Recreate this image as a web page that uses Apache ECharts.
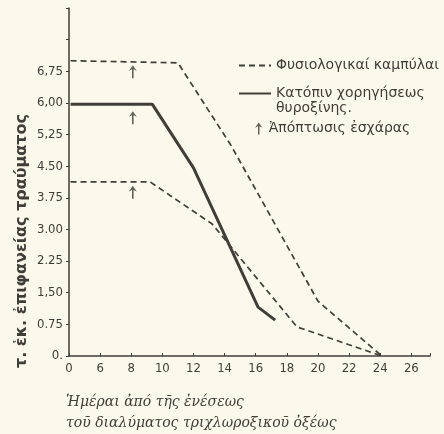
<!DOCTYPE html>
<html>
<head>
<meta charset="utf-8">
<script src="https://cdn.jsdelivr.net/npm/echarts@6/dist/echarts.min.js"></script>
<style>
  html, body { margin: 0; padding: 0; background: #fbf8ec; }
  #chart { width: 444px; height: 434px; }
</style>
</head>
<body>
<div id="chart"></div>
<script>
// ημέρες (x) / τ. εκ. (y)
const normalUpper = [[4.1, 7.0], [11, 6.95], [14.4, 5.0], [20, 1.3], [24.1, 0]];
const normalLower = [[4.1, 4.13], [9.2, 4.13], [13.2, 3.13], [18.65, 0.69], [24.1, 0]];
const thyroxine = [[4.1, 5.97], [9.35, 5.97], [12, 4.46], [16.15, 1.16], [17.25, 0.85]];
const eschar = [[8.1, 6.74], [8.1, 5.65], [8.1, 3.88]];

const xTickLabels = {4: '0', 6: '6', 8: '8', 10: '10', 12: '12', 14: '14', 16: '16', 18: '18', 20: '20', 22: '22', 24: '24', 26: '26'};
const yTickLabels = ['0.', '0.75', '1,50', '2.25', '3.00', '3.75', '4.50', '5,25', '6,00', '6,75', '', ''];

const ink = '#3f3f39';
const arrowPath = 'path://M5,0 L10,7 L6,5 L6,16 L4,16 L4,5 L0,7 Z';

const nameNormal = 'Φυσιολογικαί καμπύλαι';
const nameThyr = 'Κατόπιν χορηγήσεως\nθυροξίνης.';
const nameEschar = 'Ἀπόπτωσις ἐσχάρας';

const legendText = {color: ink, fontFamily: 'DejaVu Sans', fontSize: 14, lineHeight: 15};

const chart = echarts.init(document.getElementById('chart'));

chart.setOption({
    backgroundColor: '#fbf8ec',
    animation: false,
    grid: {left: 69, top: 8, right: 14, bottom: 78},
    legend: [
        {
            left: 233, top: 53, itemWidth: 32, itemHeight: 12,
            data: [{name: nameNormal, itemStyle: {opacity: 0}}],
            textStyle: legendText
        },
        {
            // κενή πρώτη γραμμή ώστε το εικονίδιο να στέκεται στην πρώτη γραμμή του κειμένου
            left: 233, top: 66, itemWidth: 32, itemHeight: 12,
            data: [{name: nameThyr, itemStyle: {opacity: 0}}],
            formatter: name => ' \n' + name,
            textStyle: legendText
        },
        {
            left: 250, top: 116, itemWidth: 10, itemHeight: 12,
            data: [nameEschar],
            textStyle: legendText
        }
    ],
    xAxis: {
        type: 'value',
        min: 4,
        max: 27.2,
        interval: 2,
        splitLine: {show: false},
        axisLine: {lineStyle: {color: ink, width: 1.5}},
        axisTick: {inside: true, length: 3, lineStyle: {color: ink}},
        axisLabel: {
            color: ink, fontFamily: 'DejaVu Sans Condensed', fontSize: 13, margin: 6,
            formatter: v => xTickLabels[v] || ''
        }
    },
    yAxis: {
        type: 'value',
        min: 0,
        max: 8.25,
        interval: 0.75,
        splitLine: {show: false},
        axisLine: {show: true, lineStyle: {color: ink, width: 1.5}},
        axisTick: {show: true, length: 3, lineStyle: {color: ink}},
        axisLabel: {
            color: ink, fontFamily: 'DejaVu Sans Condensed', fontSize: 13, margin: 6,
            formatter: (v, i) => yTickLabels[i] || ''
        }
    },
    series: [
        {
            name: nameNormal, type: 'line', data: normalUpper, symbol: 'none',
            lineStyle: {color: ink, width: 1.7, type: [6, 4]}, itemStyle: {color: ink}
        },
        {
            name: nameNormal, type: 'line', data: normalLower, symbol: 'none',
            lineStyle: {color: ink, width: 1.7, type: [6, 4]}, itemStyle: {color: ink}
        },
        {
            name: nameThyr, type: 'line', data: thyroxine, symbol: 'none',
            lineStyle: {color: ink, width: 3}, itemStyle: {color: ink}
        },
        {
            name: nameEschar, type: 'scatter', data: eschar,
            symbol: arrowPath, symbolSize: [8, 13], itemStyle: {color: ink}
        }
    ],
    graphic: [
        {
            type: 'text', x: 22, y: 241, rotation: Math.PI / 2,
            style: {
                text: 'τ. ἑκ. ἐπιφανείας τραύματος', fill: ink,
                font: 'bold 16px "DejaVu Sans"', align: 'center', verticalAlign: 'middle'
            }
        },
        {
            type: 'text', x: 66, y: 392,
            style: {
                text: 'Ἡμέραι ἀπό τῆς ἐνέσεως\nτοῦ διαλύματος τριχλωροξικοῦ ὀξέως', fill: ink,
                font: 'italic 14px "DejaVu Serif"', lineHeight: 21
            }
        }
    ]
});
</script>
</body>
</html>
